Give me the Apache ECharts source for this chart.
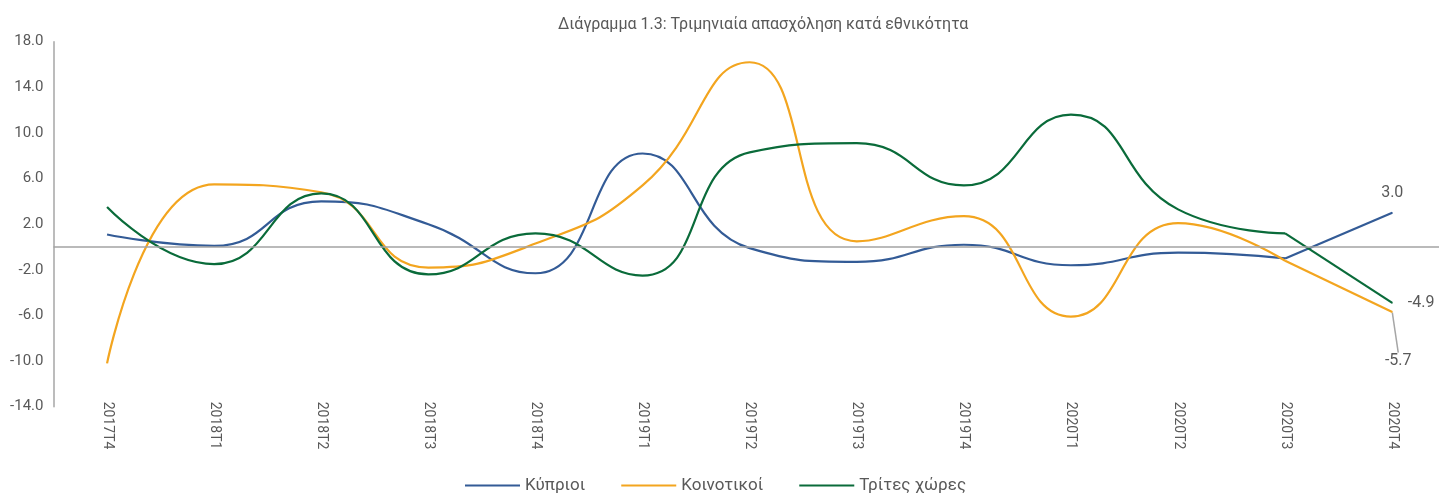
<!DOCTYPE html>
<html>
<head>
<meta charset="utf-8">
<script src="https://cdn.jsdelivr.net/npm/echarts@6/dist/echarts.min.js"></script>
<style>
  html, body { margin: 0; padding: 0; background: #fff; }
  #chart { width: 1439px; height: 493px; }
</style>
</head>
<body>
<div id="chart"></div>
<script>
// quarters
var categories = ['2017T4', '2018T1', '2018T2', '2018T3', '2018T4', '2019T1', '2019T2',
    '2019T3', '2019T4', '2020T1', '2020T2', '2020T3', '2020T4'];
var kyprioi = [1.1, 0.1, 4.0, 2.0, -2.3, 8.2, -0.1, -1.3, 0.2, -1.6, -0.5, -1.0, 3.0];
var koinotikoi = [-10.2, 5.5, 4.8, -1.8, 0.3, 5.4, 16.2, 0.5, 2.7, -6.1, 2.1, -1.2, -5.7];
var trites = [3.5, -1.5, 4.7, -2.4, 1.2, -2.5, 8.3, 9.1, 5.4, 11.6, 3.3, 1.2, -4.9];
var yTicks = [-14, -10, -6, -2, 2, 6, 10, 14, 18];

var names = ['Κύπριοι', 'Κοινοτικοί', 'Τρίτες χώρες'];
var colors = ['#335b96', '#f3a51f', '#0a6b3a'];
var txt = '#595959';
var font = 'Roboto';

var last = categories.length - 1;

// smooth part up to 2020T3, last segment drawn straight
function smoothPart(vals) {
    return vals.map(function (v, i) { return i < last ? v : '-'; });
}
function endPart(vals, label) {
    return vals.map(function (v, i) {
        if (i < last - 1) return '-';
        if (i === last) return {value: v, label: label};
        return v;
    });
}

var lbl = function (pos, dist) {
    return {
        show: true, position: pos, distance: dist,
        color: txt, fontFamily: font, fontSize: 16,
        formatter: function (p) { return p.value.toFixed(1); }
    };
};

var chart = echarts.init(document.getElementById('chart'));

var series = [{
    name: 'zero',
    type: 'line',
    data: [],
    z: 1,
    markLine: {
        silent: true,
        symbol: 'none',
        label: {show: false},
        lineStyle: {color: '#a3a3a3', width: 1.5, type: 'solid'},
        data: [{yAxis: 0}]
    }
}];

var all = [kyprioi, koinotikoi, trites];
var endLabels = [lbl('top', 11), lbl('bottom', 5), lbl('right', 15)];

all.forEach(function (vals, k) {
    series.push({
        name: names[k],
        type: 'line',
        smooth: 0.5,
        showSymbol: false,
        z: 3,
        lineStyle: {width: 2.2, color: colors[k]},
        itemStyle: {color: colors[k]},
        data: smoothPart(vals)
    });
    var s = {
        name: names[k],
        type: 'line',
        smooth: false,
        symbol: 'circle',
        symbolSize: 1,
        z: 3,
        lineStyle: {width: 2.2, color: colors[k]},
        itemStyle: {color: colors[k]},
        data: endPart(vals, endLabels[k])
    };
    if (k === 1) {
        s.labelLayout = {dx: 6, dy: 35};
        s.labelLine = {show: true, length2: 0, lineStyle: {color: '#a6a6a6', width: 1.5}};
    }
    series.push(s);
});

var option = {
    animation: false,
    title: {
        text: 'Διάγραμμα 1.3: Τριμηνιαία απασχόληση κατά εθνικότητα',
        left: 553,
        top: 12,
        textStyle: {color: txt, fontFamily: font, fontSize: 16, fontWeight: 'normal'}
    },
    legend: {
        data: names,
        left: 465,
        top: 477,
        padding: 0,
        icon: 'rect',
        itemWidth: 55,
        itemHeight: 2,
        itemGap: 36,
        textStyle: {color: txt, fontFamily: font, fontSize: 17}
    },
    grid: {
        left: 53.5,
        right: -6.8,
        top: 41.7,
        bottom: 86.3,
        containLabel: false,
        outerBoundsMode: 'none'
    },
    xAxis: {
        type: 'category',
        data: categories,
        boundaryGap: true,
        axisLine: {show: false, onZero: false},
        axisTick: {show: false},
        splitLine: {show: false},
        axisLabel: {
            rotate: -90,
            margin: -5,
            interval: 0,
            color: txt,
            fontFamily: font,
            fontSize: 14
        }
    },
    yAxis: {
        type: 'value',
        min: yTicks[0],
        max: yTicks[yTicks.length - 1],
        interval: 4,
        axisLine: {show: true, lineStyle: {color: '#a6a6a6', width: 1.5}},
        axisTick: {show: false},
        splitLine: {show: false},
        axisLabel: {
            margin: 10,
            color: txt,
            fontFamily: font,
            fontSize: 15,
            formatter: function (v) { return v.toFixed(1); }
        }
    },
    series: series
};

chart.setOption(option);
</script>
</body>
</html>
